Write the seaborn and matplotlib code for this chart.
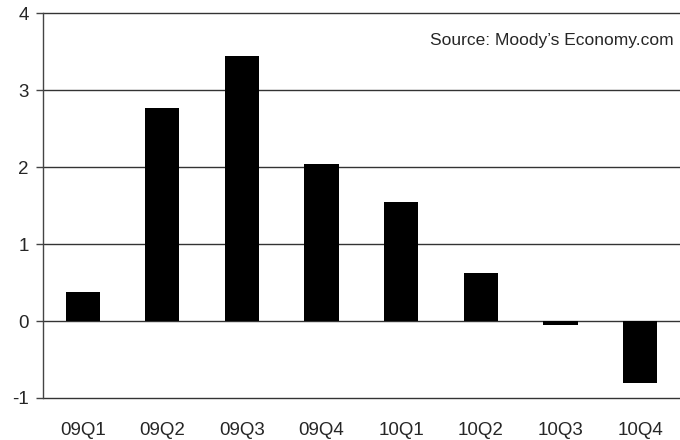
import matplotlib
matplotlib.use("Agg")
import matplotlib.pyplot as plt
import seaborn as sns
import pandas as pd

quarters = ["09Q1", "09Q2", "09Q3", "09Q4", "10Q1", "10Q2", "10Q3", "10Q4"]
values = [0.38, 2.77, 3.45, 2.04, 1.55, 0.62, -0.05, -0.80]
yticks = [-1, 0, 1, 2, 3, 4]
source = "Source: Moody\u2019s Economy.com"

sns.set_style("white")
plt.rcParams["font.family"] = ["Liberation Sans", "DejaVu Sans"]

df = pd.DataFrame({"quarter": quarters, "value": values})

fig = plt.figure(figsize=(6.8, 4.4), dpi=100)
ax = fig.add_axes([0.063, 0.0955, 0.937, 0.8745])
sns.barplot(data=df, x="quarter", y="value", color="black", width=0.43,
            saturation=1, linewidth=0, edgecolor="black", ax=ax, zorder=3)
ax.set_ylim(-1, 4)
ax.set_yticks(yticks)
ax.set_yticklabels([str(t) for t in yticks], fontsize=13.5)
ax.set_xlim(-0.5, len(quarters) - 0.5)
for t in yticks:
    ax.axhline(t, color="#333333", lw=1.0, zorder=1, clip_on=False)
ax.set_xlabel("")
ax.set_ylabel("")
for s in ["top", "right", "bottom"]:
    ax.spines[s].set_visible(False)
ax.spines["left"].set_color("#444444")
ax.spines["left"].set_linewidth(1.0)
ax.tick_params(axis="y", left=True, length=5, width=1, color="#444444", pad=5)
ax.tick_params(axis="x", bottom=False, labelsize=13.5, pad=14)
ax.text(0.99, 0.93, source, transform=ax.transAxes, ha="right", va="center",
        fontsize=12.5)
fig.savefig("out.png", dpi=100)
